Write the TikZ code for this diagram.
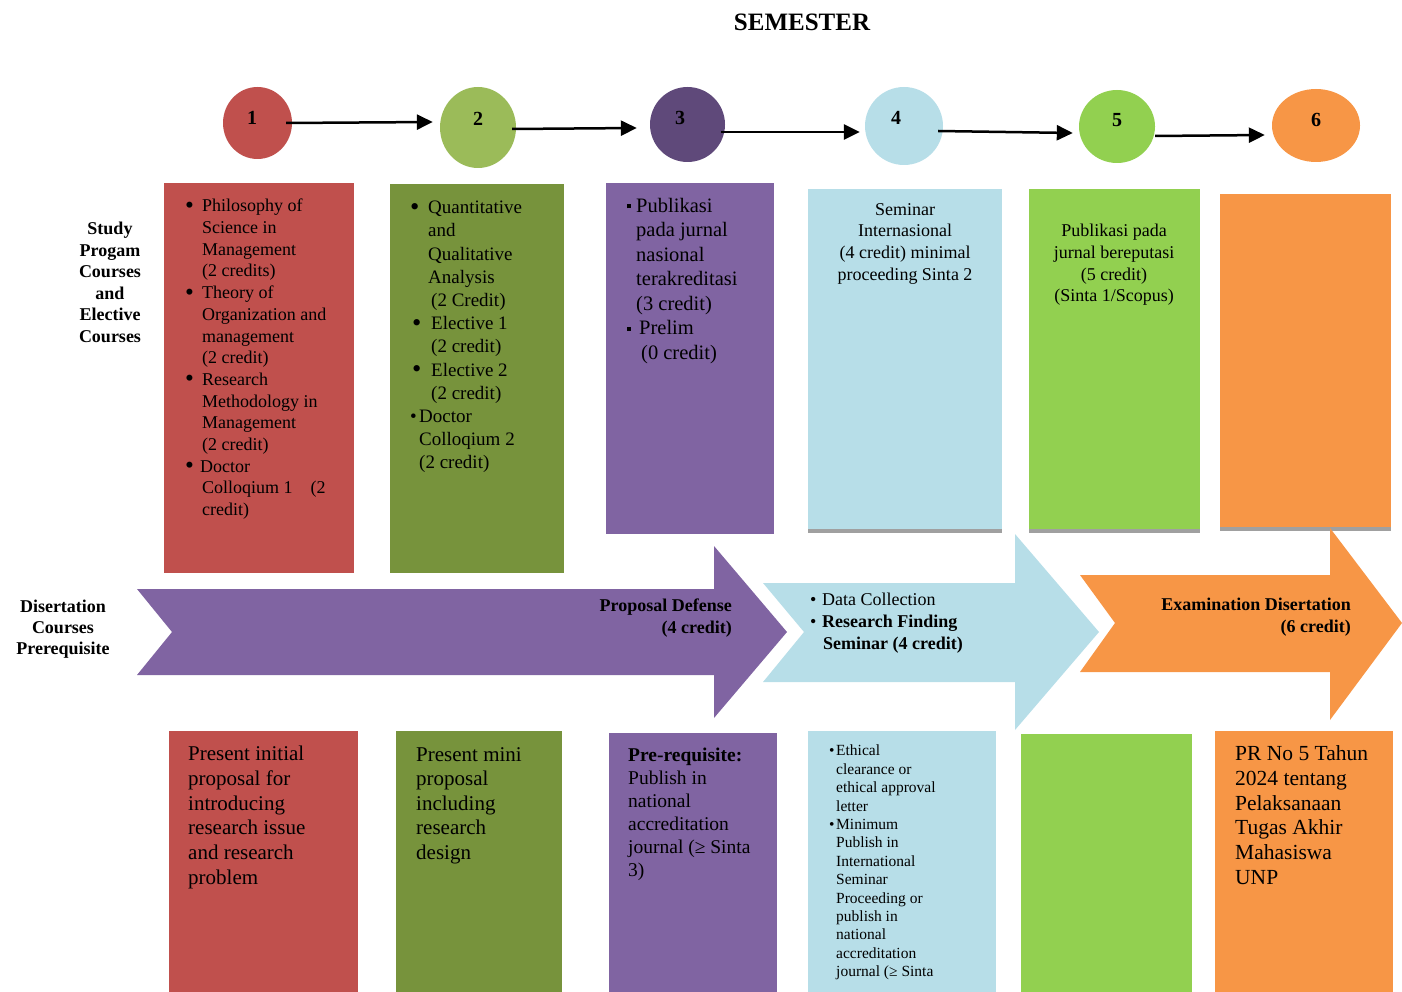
\documentclass[tikz,border=0pt]{standalone}
\usepackage{fontspec}
\setmainfont{Liberation Serif}
\usetikzlibrary{shapes.geometric,arrows.meta}

\definecolor{redc}{HTML}{C0504D}
\definecolor{olivec}{HTML}{77933C}
\definecolor{olivelt}{HTML}{9BBB59}
\definecolor{purplec}{HTML}{8064A2}
\definecolor{purpledk}{HTML}{5F497A}
\definecolor{bluec}{HTML}{B7DEE8}
\definecolor{greenc}{HTML}{92D050}
\definecolor{orangec}{HTML}{F79646}
\definecolor{stripc}{HTML}{A0A0A0}

\newcommand{\bul}[1][17pt]{\makebox[#1][l]{\raisebox{-0.08em}{\scalebox{1.4}{\textbullet}}}}
\newcommand{\sbul}[1][9pt]{\makebox[#1][l]{\textbullet}}
\newcommand{\ind}[1][17pt]{\hspace*{#1}}
\newcommand{\sqb}[1][9pt]{\makebox[#1][l]{\raisebox{4pt}{\rule{4pt}{4pt}}}}
\newcommand{\fs}[2]{\fontsize{#1}{#2}\selectfont}

\tikzset{
  sem/.style={ellipse, inner sep=0pt},
  num/.style={font=\bfseries\fs{20}{24}},
  txt/.style={anchor=north west, inner sep=0pt, align=left},
  ctxt/.style={anchor=north, inner sep=0pt, align=center},
  link/.style={line width=2.5pt, -{Triangle[length=16pt,width=15pt]}}
}

\begin{document}
\begin{tikzpicture}[x=1pt,y=-1pt]
  \useasboundingbox (0,0) rectangle (1402,992);

  % Title
  \node[font=\bfseries\fs{25}{30}] (title) at (802,22) {SEMESTER};

  % Semester circles
  \node[sem, fill=redc,     minimum width=69pt, minimum height=72pt] (c1) at (257.5,123) {};
  \node[sem, fill=olivelt,  minimum width=76pt, minimum height=81pt] (c2) at (478,127.5) {};
  \node[sem, fill=purpledk, minimum width=75pt, minimum height=75pt] (c3) at (687.5,124.5) {};
  \node[sem, fill=bluec,    minimum width=78pt, minimum height=78pt] (c4) at (904,126) {};
  \node[sem, fill=greenc,   minimum width=76pt, minimum height=73pt] (c5) at (1117,126.5) {};
  \node[sem, fill=orangec,  minimum width=88pt, minimum height=73pt] (c6) at (1316,125.5) {};

  \node[num] (n1) at (252,118) {1};
  \node[num] (n2) at (478,119) {2};
  \node[num] (n3) at (680,118) {3};
  \node[num] (n4) at (896,118) {4};
  \node[num] (n5) at (1117,120) {5};
  \node[num] (n6) at (1316,120) {6};

  % Arrows between semesters
  \draw[link] ([xshift=-6pt]c1.east) -- ([xshift=-7pt,yshift=5.5pt]c2.west);
  \draw[link] ([xshift=-4pt,yshift=-1.5pt]c2.east) -- ([xshift=-13pt,yshift=-3.5pt]c3.west);
  \draw[link] ([xshift=-4pt,yshift=-7.5pt]c3.east) -- ([xshift=-5pt,yshift=-6pt]c4.west);
  \draw[link] ([xshift=-5pt,yshift=-5pt]c4.east) -- ([xshift=-6pt,yshift=-6.5pt]c5.west);
  \draw[link] ([yshift=-9.5pt]c5.east) -- ([xshift=-7pt,yshift=-9.5pt]c6.west);

  % Course boxes
  \fill[redc]    (164,183) rectangle (354,573);
  \fill[olivec]  (390,184) rectangle (564,573);
  \fill[purplec] (606,183) rectangle (774,534);
  \fill[bluec]   (808,189) rectangle (1002,533);
  \fill[greenc]  (1029,189) rectangle (1200,533);
  \fill[orangec] (1220,194) rectangle (1391,531);
  \fill[stripc]  (808,529) rectangle (1002,533);
  \fill[stripc]  (1029,529) rectangle (1200,533);
  \fill[stripc]  (1220,527) rectangle (1391,531);

  \node[font=\bfseries\fs{18}{21.5}, ctxt] (study) at (110,222)
    {Study\\Progam\\Courses\\and\\Elective\\Courses};

  \node[txt, font=\fs{18}{21.7}] (s1) at (185,199)
    {\bul Philosophy of\\ \ind Science in\\ \ind Management\\ \ind (2 credits)\\
     \bul Theory of\\ \ind Organization and\\ \ind management\\ \ind (2 credit)\\
     \bul Research\\ \ind Methodology in\\ \ind Management\\ \ind (2 credit)\\
     \bul[15pt]Doctor\\ \ind Colloqium 1\quad (2\\ \ind credit)};

  \node[txt, font=\fs{19}{23.2}] (s2) at (410,201)
    {\bul[18pt]Quantitative\\ \ind[18pt]and\\ \ind[18pt]Qualitative\\ \ind[18pt]Analysis\\
     \ind[21pt](2 Credit)\\ \ind[2pt]\bul[19pt]Elective 1\\ \ind[21pt](2 credit)\\
     \ind[2pt]\bul[19pt]Elective 2\\ \ind[21pt](2 credit)\\
     \sbul[9pt]Doctor\\ \ind[9pt]Colloqium 2\\ \ind[9pt](2 credit)};

  \node[txt, font=\fs{20.5}{24.5}] (s3) at (627,198)
    {\sqb Publikasi\\ \ind[9pt]pada jurnal\\ \ind[9pt]nasional\\ \ind[9pt]terakreditasi\\
     \ind[9pt](3 credit)\\ \sqb[12pt]Prelim\\ \ind[14pt](0 credit)};

  \node[ctxt, font=\fs{18}{21.7}] (s4) at (905,203)
    {Seminar\\Internasional\\(4 credit) minimal\\proceeding Sinta 2};

  \node[ctxt, font=\fs{18}{21.7}] (s5) at (1114,224)
    {Publikasi pada\\jurnal bereputasi\\(5 credit)\\(Sinta 1/Scopus)};

  % Disertation arrows
  \fill[purplec] (137,589) -- (714,589) -- (714,546) -- (787,632) -- (714,718)
    -- (714,675) -- (137,675) -- (172,632) -- cycle;
  \fill[bluec] (763,583) -- (1015,583) -- (1015,534) -- (1099,632) -- (1015,730)
    -- (1015,682) -- (763,682) -- (804,632) -- cycle;
  \fill[orangec] (1080,575) -- (1330,575) -- (1330,528) -- (1402,623) -- (1330,720)
    -- (1330,672) -- (1080,672) -- (1115,623) -- cycle;

  \node[font=\bfseries\fs{18}{21}, ctxt] (dis) at (63,600)
    {Disertation\\Courses\\Prerequisite};

  \node[font=\bfseries\fs{18}{21.5}, anchor=north east, inner sep=0pt, align=right] (d3) at (732,599)
    {Proposal Defense\\(4 credit)};

  \node[txt, font=\fs{18}{22}] (d4) at (810,593)
    {\sbul[12pt]Data Collection\\ \sbul[12pt]\textbf{Research Finding}\\ \ind[13pt]\textbf{Seminar (4 credit)}};

  \node[font=\bfseries\fs{18}{22}, anchor=north east, inner sep=0pt, align=right] (d6) at (1351,598)
    {Examination Disertation\\(6 credit)};

  % Prerequisite boxes
  \fill[redc]    (169,731) rectangle (358,992);
  \fill[olivec]  (396,731) rectangle (562,992);
  \fill[purplec] (609,733) rectangle (777,992);
  \fill[bluec]   (808,731) rectangle (996,992);
  \fill[greenc]  (1021,734) rectangle (1192,992);
  \fill[orangec] (1215,731) rectangle (1393,992);

  \node[txt, font=\fs{21}{24.7}] (p1) at (188,746)
    {Present initial\\proposal for\\introducing\\research issue\\and research\\problem};

  \node[txt, font=\fs{21}{24.6}] (p2) at (416,747)
    {Present mini\\proposal\\including\\research\\design};

  \node[txt, font=\fs{19.5}{23}] (p3) at (628,748)
    {\textbf{Pre-requisite:}\\Publish in\\national\\accreditation\\journal (≥ Sinta\\3)};

  \node[txt, font=\fs{15.5}{18.4}] (p4) at (829,745)
    {\sbul[7pt]Ethical\\ \ind[7pt]clearance or\\ \ind[7pt]ethical approval\\ \ind[7pt]letter\\
     \sbul[7pt]Minimum\\ \ind[7pt]Publish in\\ \ind[7pt]International\\ \ind[7pt]Seminar\\
     \ind[7pt]Proceeding or\\ \ind[7pt]publish in\\ \ind[7pt]national\\
     \ind[7pt]accreditation\\ \ind[7pt]journal (≥ Sinta};

  \node[txt, font=\fs{21.5}{24.7}] (p6) at (1235,745.5)
    {PR No 5 Tahun\\2024 tentang\\Pelaksanaan\\Tugas Akhir\\Mahasiswa\\UNP};

\end{tikzpicture}
\end{document}
